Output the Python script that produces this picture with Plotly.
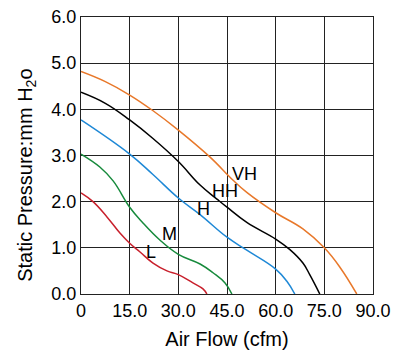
import plotly.graph_objects as go

vh_x = [0, 7.5, 15, 22, 30, 39.7, 46.8, 51.1, 60, 68.4, 75, 79.8, 85]
vh_y = [4.82, 4.6, 4.31, 3.98, 3.55, 2.97, 2.47, 2.2, 1.76, 1.41, 1.0, 0.58, 0.0]
hh_x = [0, 7.5, 15, 22, 30, 36.7, 42, 45, 51.1, 60, 64.4, 68.4, 70.5, 73.6]
hh_y = [4.37, 4.13, 3.77, 3.38, 2.87, 2.36, 2.05, 1.88, 1.55, 1.19, 0.96, 0.67, 0.42, 0.0]
h_x = [0, 15, 22, 30, 36.7, 45, 51.1, 60, 63.4, 65.9]
h_y = [3.77, 3.03, 2.6, 2.08, 1.72, 1.23, 0.95, 0.54, 0.28, 0.0]
m_x = [0, 5.8, 9.9, 15, 19.1, 24.3, 30, 36.7, 40.7, 44.4, 46.5]
m_y = [3.03, 2.75, 2.45, 1.88, 1.54, 1.17, 0.86, 0.65, 0.46, 0.24, 0.0]
l_x = [0, 3.7, 8, 12, 15, 18.2, 22.2, 26.5, 30, 34.5, 37.6, 38.8]
l_y = [2.19, 2.0, 1.67, 1.32, 1.1, 0.91, 0.67, 0.5, 0.42, 0.24, 0.11, 0.0]

series_names = ["VH", "HH", "H", "M", "L"]
series_colors = ["#E8782A", "#000000", "#1E88D6", "#178A3C", "#C8202C"]
label_x = [50.5, 44.4, 37.9, 27.4, 21.5]
label_y = [2.6, 2.23, 1.84, 1.3, 0.91]

x_ticks = [0, 15, 30, 45, 60, 75, 90]
x_tick_text = ["0", "15.0", "30.0", "45.0", "60.0", "75.0", "90.0"]
y_ticks = [0, 1, 2, 3, 4, 5, 6]
y_tick_text = ["0.0", "1.0", "2.0", "3.0", "4.0", "5.0", "6.0"]

font_family = "Liberation Sans, Arial, sans-serif"

fig = go.Figure()
for xs, ys, name, col in zip([vh_x, hh_x, h_x, m_x, l_x], [vh_y, hh_y, h_y, m_y, l_y],
                             series_names, series_colors):
    fig.add_trace(go.Scatter(x=xs, y=ys, mode="lines", name=name,
                             line=dict(color=col, width=1.5, shape="spline", smoothing=1.2),
                             showlegend=False, hoverinfo="skip"))

for name, lx, ly in zip(series_names, label_x, label_y):
    fig.add_annotation(x=lx, y=ly, text=name, showarrow=False,
                       font=dict(family=font_family, size=18, color="#000000"))

fig.add_annotation(xref="paper", yref="paper", x=-0.185, y=0.43, text="Static Pressure:mm H<sub>2</sub>o",
                   textangle=-90, showarrow=False, xanchor="center", yanchor="middle",
                   font=dict(family=font_family, size=20, color="#000000"))

fig.update_xaxes(range=[0, 90], tickvals=x_ticks, ticktext=x_tick_text, showgrid=True,
                 gridcolor="#222222", gridwidth=1, showline=True, linecolor="#222222", linewidth=1,
                 mirror=True, ticks="", zeroline=False, automargin=False,
                 tickfont=dict(family=font_family, size=18, color="#000000"),
                 title=dict(text="Air Flow (cfm)", standoff=12,
                            font=dict(family=font_family, size=20, color="#000000")))
fig.update_yaxes(range=[0, 6], tickvals=y_ticks, ticktext=y_tick_text, showgrid=True,
                 gridcolor="#222222", gridwidth=1, showline=True, linecolor="#222222", linewidth=1,
                 mirror=True, ticks="", zeroline=False, automargin=False,
                 tickfont=dict(family=font_family, size=18, color="#000000"))

fig.update_layout(width=400, height=354, margin=dict(l=81, r=27, t=17, b=60),
                  plot_bgcolor="white", paper_bgcolor="white")

fig.write_html("out.html")
